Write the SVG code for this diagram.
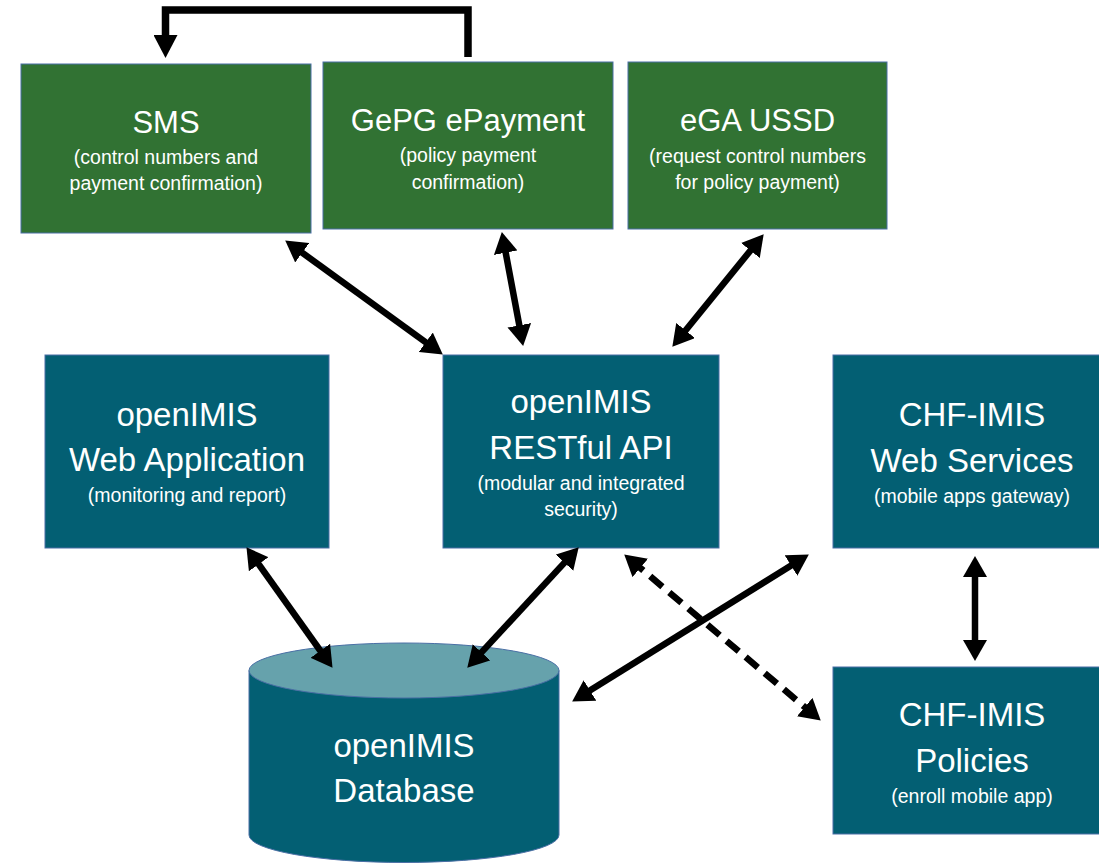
<svg xmlns="http://www.w3.org/2000/svg" width="1099" height="863" viewBox="0 0 1099 863">
<style>
.g{fill:#317233;stroke:#4a6fa5;stroke-width:1}
.t{fill:#035f73;stroke:#4a6fa5;stroke-width:1}
.h{font-family:"Liberation Sans",Arial,sans-serif;fill:#ffffff;text-anchor:middle}
.h1{font-size:31px}
.h2{font-size:33px}
.s{font-size:19.5px}
.c{fill:none;stroke:#000;stroke-width:6.5;marker-start:url(#ah);marker-end:url(#ah)}
.d{stroke-dasharray:16 9}
</style>
<defs>
<marker id="ah" markerUnits="userSpaceOnUse" markerWidth="22" markerHeight="24" refX="12" refY="12" orient="auto-start-reverse">
<path d="M0,0 L21,12 L0,24 z" fill="#000"/>
</marker>
<marker id="ah2" markerUnits="userSpaceOnUse" markerWidth="24" markerHeight="24" refX="15" refY="12" orient="auto">
<path d="M0,0 L23,12 L0,24 z" fill="#000"/>
</marker>
</defs>
<rect width="1099" height="863" fill="#ffffff"/>

<g id="sms">
<rect class="g" x="21" y="64" width="290" height="169"/>
<text class="h h1" x="166" y="133">SMS</text>
<text class="h s" x="166" y="164">(control numbers and</text>
<text class="h s" x="166" y="190">payment confirmation)</text>
</g>

<g id="gepg">
<rect class="g" x="323" y="62" width="290" height="167"/>
<text class="h h1" x="468" y="131">GePG ePayment</text>
<text class="h s" x="468" y="162">(policy payment</text>
<text class="h s" x="468" y="189">confirmation)</text>
</g>

<g id="ega">
<rect class="g" x="628" y="62" width="259" height="167"/>
<text class="h h1" x="757.5" y="131">eGA USSD</text>
<text class="h s" x="757.5" y="163">(request control numbers</text>
<text class="h s" x="757.5" y="189">for policy payment)</text>
</g>

<g id="webapp">
<rect class="t" x="45" y="355" width="284" height="193"/>
<text class="h h2" x="187" y="426">openIMIS</text>
<text class="h h2" x="187" y="471">Web Application</text>
<text class="h s" x="187" y="502">(monitoring and report)</text>
</g>

<g id="api">
<rect class="t" x="443" y="355" width="276" height="193"/>
<text class="h h2" x="581" y="413">openIMIS</text>
<text class="h h2" x="581" y="459">RESTful API</text>
<text class="h s" x="581" y="490">(modular and integrated</text>
<text class="h s" x="581" y="516">security)</text>
</g>

<g id="webservices">
<rect class="t" x="833" y="355" width="278" height="193"/>
<text class="h h2" x="972" y="426">CHF-IMIS</text>
<text class="h h2" x="972" y="472">Web Services</text>
<text class="h s" x="972" y="503">(mobile apps gateway)</text>
</g>

<g id="policies">
<rect class="t" x="833" y="667" width="278" height="167"/>
<text class="h h2" x="972" y="726">CHF-IMIS</text>
<text class="h h2" x="972" y="772">Policies</text>
<text class="h s" x="972" y="803">(enroll mobile app)</text>
</g>

<g id="database">
<path class="t" d="M249,670.5 V835 A155,27.5 0 0 0 559,835 V670.5"/>
<ellipse cx="404" cy="670.5" rx="155" ry="27.5" fill="#66a2ac" stroke="#4a6fa5" stroke-width="1"/>
<text class="h h2" x="404" y="757">openIMIS</text>
<text class="h h2" x="404" y="802">Database</text>
</g>

<g id="connectors">
<path d="M468,57 V10 H165.5 V50" fill="none" stroke="#000" stroke-width="7.5" marker-end="url(#ah2)"/>
<path class="c" d="M292.5,245.7 L435.5,349.3"/>
<path class="c" d="M503.5,240.9 L521.5,337.1"/>
<path class="c" d="M758,241.2 L678,339.8"/>
<path class="c" d="M251.7,554.5 L327.3,660.5"/>
<path class="c" d="M572.6,553.9 L473.4,661.1"/>
<path class="c" d="M579.8,696.8 L801.2,559.2"/>
<path class="c d" d="M631.1,560.2 L813.9,714.8"/>
<path class="c" d="M975,565 L975,652"/>
</g>
</svg>
